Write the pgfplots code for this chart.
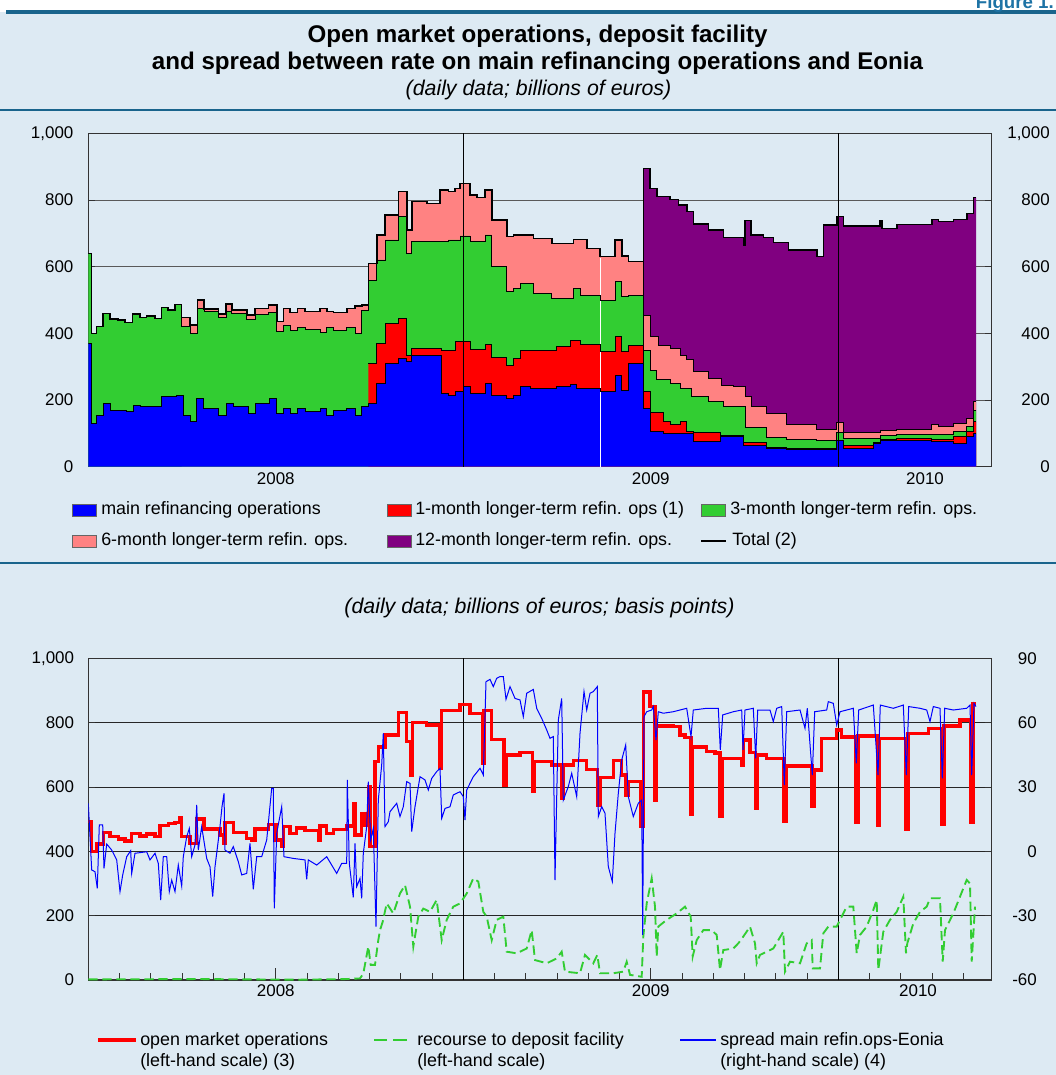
\documentclass[border=0pt]{standalone}
\usepackage{pgfplots}
\pgfplotsset{compat=1.18}
\usepackage{pgfplotstable}
\usepackage{fontspec}
\setmainfont{Liberation Sans}
\definecolor{bgblue}{RGB}{221,234,243}
\definecolor{hdr}{RGB}{25,100,140}
\definecolor{hdrtext}{RGB}{30,115,165}
\definecolor{cMRO}{RGB}{0,0,255}
\definecolor{cOne}{RGB}{255,0,0}
\definecolor{cThree}{RGB}{50,205,50}
\definecolor{cSix}{RGB}{255,130,130}
\definecolor{cTwelve}{RGB}{128,0,128}
\newcommand{\tickfont}{\fontsize{12.7}{15}\selectfont}
\newcommand{\legfont}{\fontsize{13.4}{16}\selectfont}

% x = position along the time axis (1 month = 31.25 units, 88.3 = 1 Jan 2008)
\pgfplotstableread{
x y
88.3 370
91.7 130
96.7 155
103.3 190
110 170
126.7 165
133.3 185
140 180
161.7 210
176.7 215
183.3 155
190 135
196.7 205
203.3 175
218.3 155
226.7 190
233.3 180
248.3 160
255 190
269.3 205
276.7 160
283.3 175
290 160
297.3 175
305 165
320 175
326.7 155
333.3 170
346.7 175
355 155
361.7 180
368.3 190
376.7 250
385 310
398.3 325
406.7 315
411.7 335
441.7 220
448.3 215
455 225
463.3 240
470 220
485 250
491.7 215
506.7 205
513.3 215
520 240
530 235
556.7 240
570 248
576.7 235
600 225
615 275
621.7 230
628.3 310
643.3 175
650 105
663.3 100
693.3 75
720 90
743.3 65
766.7 55
786.7 52
836.7 78
843.3 55
873.3 70
880 80
931.7 75
953.3 70
966.7 90
973.3 100
976 100
}\tMRO

\pgfplotstableread{
x y
368.3 310
376.7 370
385 430
398.3 445
406.7 335
411.7 355
441.7 350
455 375
470 352
485 368
491.7 328
506.7 305
513.3 325
520 350
556.7 360
570 380
580 368
600 345
615 392
621.7 345
628.3 365
643.3 225
650 162
663.3 135
670 128
680 135
686.7 105
693.3 102
720 95
743.3 72
766.7 58
786.7 55
836.7 80
843.3 65
873.3 72
880 82
896.7 85
931.7 82
953.3 90
966.7 105
973.3 135
976 135
}\tOne

\pgfplotstableread{
x y
88.3 640
91.7 400
96.7 420
103.3 460
110 443
118.3 440
125 433
132.7 458
140 448
146.7 452
155 445
161.7 478
168.3 470
175 487
181.7 420
190 400
197.3 475
204 465
218.3 448
226 465
231.7 460
246.7 443
255 458
268.3 462
276.7 405
283.3 425
290 410
297.3 418
305 413
320 403
326.7 418
333.3 410
346.7 418
355 400
361.7 470
368.3 560
376.7 620
385 680
398.3 750
406.7 640
411.7 675
448.3 680
460 692
470 675
485 695
491.7 600
506.7 525
513.3 535
520 550
533.3 520
551.7 505
573.3 535
580 515
600 500
615 555
621.7 510
628.3 515
643.3 350
650 290
656.7 262
670 250
680 235
691.7 210
708.3 195
723.3 180
745 118
766.7 88
786.7 82
816.7 80
836.7 102
843.3 85
880 95
896.7 98
953.3 105
966.7 120
973.3 170
976 170
}\tThree

\pgfplotstableread{
x y
181.7 447
190 425
197.3 500
204 473
218.3 458
226 488
231.7 470
246.7 455
255 475
268.3 485
276.7 435
283.3 475
290 462
297.3 475
305 465
320 475
326.7 465
333.3 462
346.7 475
355 482
361.7 485
368.3 610
376.7 695
385 755
398.3 825
406.7 710
411.7 795
426.7 790
440 830
448.3 825
455 835
460 850
470 815
476.7 808
485 830
491.7 740
506.7 690
513.3 695
533.3 685
551.7 670
573.3 682
586.7 655
600 630
615 680
621.7 632
628.3 615
643.3 455
650 390
658.3 365
670 355
680 335
686.7 322
693.3 285
708.3 265
721.7 245
733.3 240
745 210
751.7 180
766.7 160
786.7 128
816.7 112
836.7 133
843.3 102
880 110
896.7 112
931.7 128
938.3 122
953.3 130
966.7 145
973.3 195
976 195
}\tSix

\pgfplotstableread{
x y
643.3 895
650 835
656.7 810
670 802
678.3 785
686.7 765
693.3 728
708.3 710
723.3 688
743.3 665
745 738
750.7 695
763.3 688
773.3 672
788.3 650
816.7 630
823.3 725
836.7 750
843.3 722
880 737
881.7 715
896.7 727
931.7 742
938.3 735
953.3 742
966.7 760
973.3 808
976 808
}\tTwelve

\pgfplotstableread{
x y
88.3 640
91.7 400
96.7 420
103.3 460
110 443
118.3 440
125 433
132.7 458
140 448
146.7 452
155 445
161.7 478
168.3 470
175 487
181.7 447
190 425
197.3 500
204 473
218.3 458
226 488
231.7 470
246.7 455
255 475
268.3 485
276.7 435
283.3 475
290 462
297.3 475
305 465
320 475
326.7 465
333.3 462
346.7 475
355 482
361.7 485
368.3 610
376.7 695
385 755
398.3 825
406.7 710
411.7 795
426.7 790
440 830
448.3 825
455 835
460 850
470 815
476.7 808
485 830
491.7 740
506.7 690
513.3 695
533.3 685
551.7 670
573.3 682
586.7 655
600 630
615 680
621.7 632
628.3 615
643.3 895
650 835
656.7 810
670 802
678.3 785
686.7 765
693.3 728
708.3 710
723.3 688
743.3 665
745 738
750.7 695
763.3 688
773.3 672
788.3 650
816.7 630
823.3 725
836.7 750
843.3 722
880 737
881.7 715
896.7 727
931.7 742
938.3 735
953.3 742
966.7 760
973.3 808
976 808
}\tTotal

\pgfplotstableread{
x y
88.3 492
91.7 399
96.7 423
103.3 459
110 446
118.3 438
125 432
131.7 456
140 448
146.7 454
155 446
160 480
168.3 487
175 489
180 503
181.7 446
190 425
196.7 501
204 469
220 451
223.3 425
225 489
233.3 458
246.7 440
251.7 435
255 469
268.3 484
276 435
281.7 415
283.3 477
290 456
296.7 472
305 464
318.3 435
320 479
326.7 456
333.3 468
346.7 479
353.3 549
355 451
361.7 518
365 482
368.3 601
370 415
375 679
378.3 725
385 762
398.3 831
406.7 741
410.7 637
412.7 800
426.7 792
440 658
441.7 837
460 857
470 829
482.7 674
484 837
491.7 748
504 606
506 700
520 708
532.7 586
534.7 679
551.7 668
561.7 565
563.3 668
573.3 682
586.7 655
597.7 544
600 630
613.3 682
621.7 637
626 575
628.3 617
641 477
643.3 896
650 850
655 560
656.7 790
673.3 788
680 762
685 754
691 516
692.7 725
706.7 710
715 706
720 510
722 689
741.7 668
743.3 746
750 707
755.3 534
757.3 700
766.7 689
784 492
786 665
812 541
814 653
821.7 751
836.7 777
841.7 756
856 489
858 758
877.7 482
879.7 751
906 469
908 767
928.3 782
942 484
944 790
960 808
971 489
973 860
975.5 860
}\tOMO

\pgfplotstableread{
x y
88.3 2
200 3
300 1
346.7 3
360 5
363.3 20
368.3 104
370.7 47
375 47
378.3 124
380 155
382.7 181
386.7 238
393.3 207
400 269
405 295
410 228
413.3 104
418.3 197
423.3 222
430 212
436.7 249
441.7 124
446.7 187
453.3 228
460 238
466.7 269
473.3 316
478.3 306
483.3 212
486.7 197
491.7 124
496.7 187
503.3 197
506.7 88
516.7 83
526.7 98
531.7 155
535 62
546.7 52
556.7 67
561.7 88
565 26
580 21
585 78
593.3 52
597.3 78
600 21
613.3 21
623.3 26
626.7 57
630 16
641.7 10
643.3 135
646.7 238
651.7 316
655 228
656.7 73
658.3 166
666.7 187
676.7 207
685 228
690.7 197
692.7 73
696.7 124
703.3 155
711.7 155
716.7 140
720 31
723.3 93
733.3 98
738.3 114
743.3 135
750 166
755 114
756.7 52
760 78
773.3 98
783.3 150
785 26
790 57
800 52
806.7 114
811.7 124
812.7 36
820 36
823.3 145
828.3 166
836.7 166
846.7 228
853.3 228
856.7 83
860 140
866.7 166
873.3 218
876.7 249
878.3 31
883.3 150
890 187
896.7 212
903.3 259
906 83
907.3 114
913.3 176
920 212
926.7 228
930 254
940 254
942.7 57
945 155
953.3 207
960 259
966.7 311
970 300
971.7 57
975 228
}\tDep

\pgfplotstableread{
x y
88.3 22.4
91.7 -8.7
95 -9.5
97.3 -17.3
99.3 12.3
102.7 12.3
104 -7.9
106.7 3.4
111.7 0.6
116.7 -4
120 -18.8
122.7 -11
126.7 -2.5
130.7 0.3
131.7 -10.3
135 -0.9
146.7 -0.2
150 -4
155 -0.9
158.3 -5.6
160.7 -22.7
163.3 -2.5
166.7 -2.5
169.3 -18.8
171.7 -13.4
175 -18.8
178.3 -6.4
181.7 -16.2
183.3 -2.5
186.7 6.8
189.3 10.7
191.7 -2.5
195 3
196.7 21.6
198.3 0.6
201.7 11.5
206.7 -3.3
210 -7.2
212.7 -21.1
215 -7.2
220 11.5
222 20.8
224 27
225 0.6
230 -0.9
233.3 2.2
238.3 -4.8
241.7 -11
246.7 -10.3
250 3.7
253.3 -17.7
256.7 -2.5
261.7 -2.5
266.7 5.3
271.7 29.4
273.3 29.4
274.3 -26.6
276.7 8.4
281.7 20.8
284 -2.5
293.3 -3.3
305 -4
306.7 -13.1
308.3 -4
316.7 -6.4
326.7 -2.5
336.7 -10.3
341.7 -5.6
346.7 -5.6
347.3 33.3
349.3 -5.6
353.3 -21.5
355 3.7
356.7 -16.5
360 -12.6
361.7 -21.9
363.3 -0.9
366.7 11.5
368.3 32.5
370.7 5.3
373.3 10.7
376 -35.1
378.3 23.9
381.7 40.3
383.3 55
385 11.5
388.3 13.8
390 18.5
396.7 22.4
400 16.2
403.3 20.8
406.7 32.5
410 31.7
411.7 9.2
415 20.8
420 34.8
425 33.3
428.3 28.6
431.7 34
436.7 37.2
440 38.7
441.7 15.4
445 20
450 20.8
453.3 26.3
460 27.8
463.3 25.5
465 14.6
466.7 28.6
473.3 34.8
480 38.7
483.3 35.6
486 79.1
490 80.2
493.3 76.8
496.7 80.7
500 81.5
503.3 81.5
506 70.9
510 76.8
515 71.3
520 70.6
523.3 62.8
526.7 73.7
533.3 75.5
536.7 66.7
541.7 62
546.7 56.6
550 52.7
553.3 53.5
555 -13.4
558.3 61.2
561.7 71.3
563.3 23.9
568.3 30.2
571.7 36.4
576.7 25.5
580 55
584 74.5
586.7 65.9
590 73.7
593.3 74.5
597.3 76.8
598.3 16.2
601.7 20.8
605 17.7
608.3 -7.1
612.3 -14.1
615 8.4
618.3 27
621.7 42.6
625.7 49.6
628.3 25.5
633.3 16.2
638.3 22.4
641.7 23.9
642.7 -39
644 62.8
646.7 65.1
651.7 65.9
653.3 67.5
656 51.9
658.3 65.1
663.3 64.4
673.3 65.1
686.7 66.7
691 53.5
693.3 65.9
706.7 66.7
718.3 66.7
720.3 47.3
722.7 63.6
733.3 65.1
741.7 65.9
743 47.3
745 65.9
753.3 66.7
755.7 43.4
757.7 65.9
770 65.9
773.3 60.5
776.7 66.7
781.7 67.5
784.3 30.9
786.7 65.1
800 65.9
805 57.4
807.3 66.7
812.3 35.6
814.7 65.1
826.7 65.9
828.3 69.8
833.3 69
836.7 58.9
840 65.1
853.3 66.7
856.3 41
858.7 65.9
873.3 68.2
878 35.6
880.3 68.2
893.3 66.7
903.3 68.2
906.3 35.6
908.7 67.5
920 66.7
926.7 65.9
930 60.5
933.3 67.5
940 66.7
942.3 34
944.7 66.7
953.3 65.9
966.7 66.7
970 68.2
971.7 35.6
974 69
976 67.5
}\tSpread

\pgfplotsset{
  base/.style={
    anchor=south west, scale only axis, width=677.55pt,
    xmin=88.3, xmax=991.7,
    axis line style={draw=black!80, line width=0.8pt},
    tick align=inside,
    tick style={draw=black!80, line width=0.6pt},
    major tick length=5pt,
  },
  months/.style={
    xtick={119.55,150.8,182.05,213.3,244.55,275.8,307.05,338.3,369.55,400.8,432.05,463.3,494.55,525.8,557.05,588.3,619.55,650.8,682.05,713.3,744.55,775.8,807.05,838.3,869.55,900.8,932.05,963.3},
    xticklabels={},
    extra x ticks={275.8,650.8},
    extra x tick labels={2008,2009},
    extra x tick style={major tick length=8.75pt},
    xtick pos=left,
  },
}

\begin{document}
\begin{tikzpicture}
\begin{scope}[x=0.75pt,y=-0.75pt]
\useasboundingbox (0,0) rectangle (1056,1075);
\fill[white] (0,0) rectangle (1056,1075);
\fill[bgblue] (0,12) rectangle (1056,1075);
\fill[hdr] (6,10) rectangle (1056,13.5);
\fill[hdr] (0,109) rectangle (1056,111);
\fill[hdr] (0,562) rectangle (1056,564);
\node[anchor=base east, inner sep=0pt, text=hdrtext, font=\bfseries\fontsize{14}{17}\selectfont] at (1054,8.5) {Figure 1.};
\node[anchor=base, inner sep=0pt, font=\bfseries\fontsize{18.1}{22}\selectfont] at (537.5,42.5) {Open market operations, deposit facility};
\node[anchor=base, inner sep=0pt, font=\bfseries\fontsize{18.1}{22}\selectfont] at (537.5,69) {and spread between rate on main refinancing operations and Eonia};
\node[anchor=base, inner sep=0pt, font=\itshape\fontsize{16}{19}\selectfont] at (538.5,95.5) {(daily data; billions of euros)};
\node[anchor=base, inner sep=0pt, font=\itshape\fontsize{16}{19}\selectfont] at (539.5,613) {(daily data; billions of euros; basis points)};
% top legend
\begin{scope}[every node/.style={anchor=base west, inner sep=0pt, font=\legfont}]
\filldraw[fill=cMRO, draw=black!60, line width=0.4pt] (72,504) rectangle (96,516);
\node at (101,514.5) {main refinancing operations};
\filldraw[fill=cOne, draw=black!60, line width=0.4pt] (387,504) rectangle (411,516);
\node at (415,514.5) {1-month longer-term refin. ops (1)};
\filldraw[fill=cThree, draw=black!60, line width=0.4pt] (701,504) rectangle (725,516);
\node at (730,514.5) {3-month longer-term refin. ops.};
\filldraw[fill=cSix, draw=black!60, line width=0.4pt] (72,535) rectangle (96,547);
\node at (101,545.5) {6-month longer-term refin. ops.};
\filldraw[fill=cTwelve, draw=black!60, line width=0.4pt] (387,535) rectangle (411,547);
\node at (415,545.5) {12-month longer-term refin. ops.};
\draw[black, line width=1.2pt] (701,541) -- (726,541);
\node at (732,545.5) {Total (2)};
% bottom legend
\draw[cOne, line width=2.6pt] (98,1040) -- (136,1040);
\node at (140,1045) {open market operations};
\node at (140,1066) {(left-hand scale) (3)};
\draw[cThree, line width=1.4pt, dash pattern=on 10pt off 4.5pt] (374,1040) -- (409,1040);
\node at (417,1045) {recourse to deposit facility};
\node at (417,1066) {(left-hand scale)};
\draw[cMRO, line width=0.8pt] (680,1040) -- (716,1040);
\node at (720,1045) {spread main refin.ops-Eonia};
\node at (720,1066) {(right-hand scale) (4)};
\end{scope}
\end{scope}

% ---------- top panel ----------
\begin{axis}[base, months,
  at={(66.225pt,-350.025pt)}, height=250.05pt,
  ymin=0, ymax=1000,
  ytick={0,200,400,600,800,1000}, yticklabels={0,200,400,600,800,{1,000}},
  ytick pos=left,
  ymajorgrids, major grid style={draw=black!65, line width=0.7pt},
  yticklabel style={font=\tickfont, anchor=east, inner sep=0pt, xshift=-11pt},
  xticklabel style={font=\tickfont, anchor=north, inner sep=0pt, yshift=-4pt},
  after end axis/.code={\node[font=\tickfont, anchor=north, inner sep=0pt] at ([yshift=-4pt]axis cs:925,0) {2010};},
]
\addplot[const plot, fill=cTwelve, draw=none] table {\tTwelve} \closedcycle;
\addplot[const plot, fill=cSix, draw=none] table {\tSix} \closedcycle;
\addplot[const plot, fill=cThree, draw=none] table {\tThree} \closedcycle;
\addplot[const plot, fill=cOne, draw=none] table {\tOne} \closedcycle;
\addplot[const plot, fill=cMRO, draw=none] table {\tMRO} \closedcycle;
\draw[white, line width=0.5pt] (axis cs:600.7,0) -- (axis cs:600.7,625);
\addplot[const plot, black, line width=0.7pt] table {\tSix};
\addplot[const plot, black, line width=0.7pt] table {\tThree};
\addplot[const plot, black, line width=0.7pt] table {\tOne};
\addplot[const plot, black, line width=0.7pt] table {\tMRO};
\addplot[const plot, black, line width=1.2pt] table {\tTotal};
\draw[black, line width=0.7pt] (axis cs:463.3,0) -- (axis cs:463.3,1000);
\draw[black, line width=0.7pt] (axis cs:838.3,0) -- (axis cs:838.3,1000);
\end{axis}
\begin{axis}[base,
  at={(66.225pt,-350.025pt)}, height=250.05pt,
  ymin=0, ymax=1000,
  axis x line=none, axis y line*=right,
  ytick={0,200,400,600,800,1000}, yticklabels={0,200,400,600,800,{1,000}},
  yticklabel style={font=\tickfont, anchor=east, inner sep=0pt, xshift=43.7pt},
]
\addplot[draw=none] coordinates {(500,0)};
\end{axis}

% ---------- bottom panel ----------
\begin{axis}[base, months,
  at={(66.225pt,-735pt)}, height=241.275pt,
  ymin=0, ymax=1000,
  ytick={0,200,400,600,800,1000}, yticklabels={0,200,400,600,800,{1,000}},
  ytick pos=left,
  ymajorgrids, major grid style={draw=black!85, line width=0.7pt},
  yticklabel style={font=\tickfont, anchor=east, inner sep=0pt, xshift=-10.5pt},
  xticklabel style={font=\tickfont, anchor=north, inner sep=0pt, yshift=-3pt},
  after end axis/.code={\node[font=\tickfont, anchor=north, inner sep=0pt] at ([yshift=-3pt]axis cs:918,0) {2010};},
]
\draw[black, line width=0.7pt] (axis cs:463.3,0) -- (axis cs:463.3,1000);
\draw[black, line width=0.7pt] (axis cs:838.3,0) -- (axis cs:838.3,1000);
\addplot[cThree, line width=1.4pt, dash pattern=on 7pt off 3.5pt] table {\tDep};
\addplot[const plot, cOne, line width=2.6pt] table {\tOMO};
\end{axis}
\begin{axis}[base,
  at={(66.225pt,-735pt)}, height=241.275pt,
  ymin=-60, ymax=90,
  axis x line=none, axis y line*=right,
  ytick={-60,-30,0,30,60,90}, yticklabels={-60,-30,0,30,60,90},
  yticklabel style={font=\tickfont, anchor=east, inner sep=0pt, xshift=34pt},
]
\addplot[cMRO, line width=0.75pt] table {\tSpread};
\end{axis}
\end{tikzpicture}
\end{document}
